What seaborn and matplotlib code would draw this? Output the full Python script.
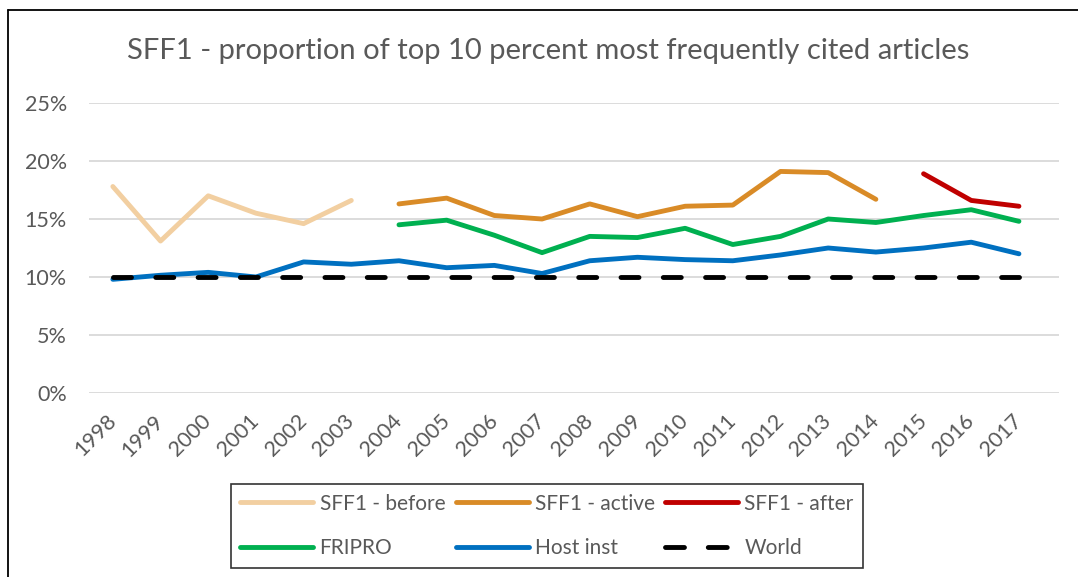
import numpy as np
import pandas as pd
import matplotlib
matplotlib.use('Agg')
import matplotlib.pyplot as plt
from matplotlib.lines import Line2D
import seaborn as sns

# data (shares, 0-1)
years = list(range(1998, 2018))
before_years = [1998, 1999, 2000, 2001, 2002, 2003]
before_vals = [0.178, 0.131, 0.170, 0.155, 0.146, 0.166]
active_years = list(range(2004, 2015))
active_vals = [0.163, 0.168, 0.153, 0.150, 0.163, 0.152, 0.161, 0.162, 0.191, 0.190, 0.167]
after_years = [2015, 2016, 2017]
after_vals = [0.189, 0.166, 0.161]
fripro_years = list(range(2004, 2018))
fripro_vals = [0.145, 0.149, 0.136, 0.121, 0.135, 0.134, 0.142, 0.128, 0.135, 0.150, 0.147, 0.153, 0.158, 0.148]
host_vals = [0.098, 0.1015, 0.104, 0.100, 0.113, 0.111, 0.114, 0.108, 0.110, 0.103, 0.114, 0.117, 0.115,
             0.114, 0.119, 0.125, 0.1215, 0.125, 0.130, 0.120]
world_vals = [0.10] * 20

series = [
    ('SFF1 - before', before_years, before_vals, '#F2CFA1'),
    ('SFF1 - active', active_years, active_vals, '#D98B27'),
    ('SFF1 - after', after_years, after_vals, '#C00000'),
    ('FRIPRO', fripro_years, fripro_vals, '#00B050'),
    ('Host inst', years, host_vals, '#0070C0'),
]

sns.set_theme(style='white')
plt.rcParams['font.family'] = ['Lato', 'DejaVu Sans']
TXT = '#595959'
LW = 3.5

fig = plt.figure(figsize=(10.78, 5.77), dpi=100)
ax = fig.add_axes([89 / 1078, 1 - 393 / 577, (1059 - 89) / 1078, (393 - 103) / 577])

handles = {}
for name, xs, ys, col in series:
    df = pd.DataFrame({'year': xs, 'val': ys})
    sns.lineplot(data=df, x='year', y='val', ax=ax, color=col, linewidth=LW,
                 solid_capstyle='round', solid_joinstyle='round', zorder=3)
    handles[name] = Line2D([], [], color=col, linewidth=LW, solid_capstyle='round')

df_w = pd.DataFrame({'year': years, 'val': world_vals})
sns.lineplot(data=df_w, x='year', y='val', ax=ax, color='black', linewidth=LW,
             linestyle=(0, (3.7, 5.0)), dash_capstyle='round', zorder=4)
handles['World'] = Line2D([], [], color='black', linewidth=LW, linestyle=(0, (3.9, 4.9)),
                          dash_capstyle='round')

ax.set_xlim(1997.5, 2017.84)
ax.set_ylim(0, 0.25)
ax.set_yticks(np.arange(0, 0.26, 0.05))
ax.set_yticklabels([f'{int(round(v * 100))}%' for v in np.arange(0, 0.26, 0.05)])
ax.set_xticks(years)
ax.set_xticklabels([str(y) for y in years], rotation=45, ha='right', va='center',
                   rotation_mode='anchor')
ax.tick_params(axis='y', length=0, pad=16, labelsize=15.5, labelcolor=TXT)
ax.tick_params(axis='x', length=0, pad=18, labelsize=15.5, labelcolor=TXT)
ax.grid(axis='y', color='#D9D9D9', linewidth=1.3)
ax.set_axisbelow(True)
for s in ax.spines.values():
    s.set_visible(False)
ax.set_xlabel('')
ax.set_ylabel('')
if ax.get_legend():
    ax.get_legend().remove()

fig.text(548 / 1078, 1 - 51 / 577, 'SFF1 - proportion of top 10 percent most frequently cited articles',
         ha='center', va='center', fontsize=21, color=TXT)

order = ['SFF1 - before', 'FRIPRO', 'SFF1 - active', 'Host inst', 'SFF1 - after', 'World']
leg = fig.legend([handles[k] for k in order], order, ncol=3, loc='center',
                 bbox_to_anchor=(547 / 1078, 1 - 526 / 577), bbox_transform=fig.transFigure,
                 fontsize=15, frameon=True, fancybox=False, handlelength=3.5,
                 handletextpad=0.3, columnspacing=0.5, labelspacing=1.2, borderpad=0.45,
                 borderaxespad=0)
leg.get_frame().set_edgecolor('black')
leg.get_frame().set_linewidth(1.2)
for t in leg.get_texts():
    t.set_color(TXT)

# chart-area border (top and left edges visible in the reference)
fig.add_artist(Line2D([8 / 1078, 8 / 1078], [0, 1 - 10 / 577], color='black', linewidth=1.3,
                      transform=fig.transFigure))
fig.add_artist(Line2D([8 / 1078, 1], [1 - 10 / 577, 1 - 10 / 577], color='black', linewidth=1.3,
                      transform=fig.transFigure))

fig.savefig('out.png', dpi=100)
